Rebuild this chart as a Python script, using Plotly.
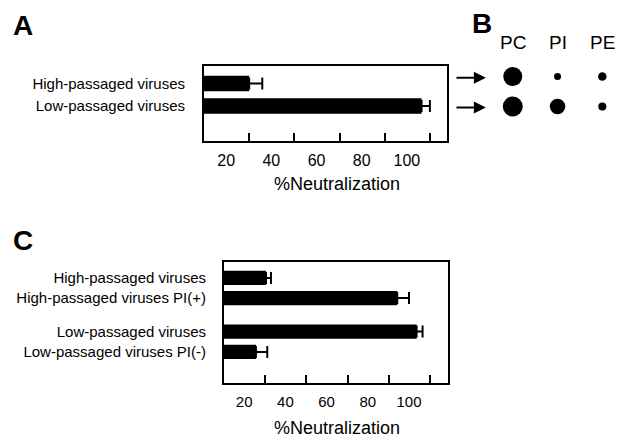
import plotly.graph_objects as go

FONT = "Liberation Sans, Arial, Helvetica, sans-serif"
W, H = 620, 439

# ---------------- data ----------------
a_labels = ["High-passaged viruses", "Low-passaged viruses"]
a_pos = [1, 0]
a_values = [20.0, 96.3]
a_errors = [5.8, 3.7]

c_labels = ["High-passaged viruses", "High-passaged viruses PI(+)",
            "Low-passaged viruses", "Low-passaged viruses PI(-)"]
c_pos = [3.64, 2.65, 1.0, 0.0]
c_values = [20.4, 84.1, 93.5, 15.5]
c_errors = [2.4, 5.7, 2.9, 5.5]

b_columns = ["PC", "PI", "PE"]
b_rows = [1, 0]              # 1 = high-passaged row, 0 = low-passaged row
b_sizes_high = [19, 7, 8.5]
b_sizes_low = [20, 15.5, 8]

x_ticks = [20, 40, 60, 80, 100]


def px_x(p):
    return p / W


def px_y(p):
    return 1 - p / H


fig = go.Figure()

# Panel A bars
fig.add_trace(go.Bar(
    x=a_values, y=a_pos, orientation="h", width=0.69,
    marker=dict(color="black", line=dict(width=0)),
    error_x=dict(type="data", symmetric=False, array=a_errors,
                 arrayminus=[0] * len(a_errors), color="black",
                 thickness=2, width=6),
    xaxis="x", yaxis="y", showlegend=False,
))

# Panel C bars
fig.add_trace(go.Bar(
    x=c_values, y=c_pos, orientation="h", width=0.7,
    marker=dict(color="black", line=dict(width=0)),
    error_x=dict(type="data", symmetric=False, array=c_errors,
                 arrayminus=[0] * len(c_errors), color="black",
                 thickness=2, width=6),
    xaxis="x2", yaxis="y2", showlegend=False,
))

# Panel B dots
bx = list(range(len(b_columns)))
fig.add_trace(go.Scatter(
    x=bx + bx, y=[b_rows[0]] * 3 + [b_rows[1]] * 3, mode="markers",
    marker=dict(color="#000000", opacity=1, size=b_sizes_high + b_sizes_low,
                line=dict(width=0)),
    xaxis="x3", yaxis="y3", showlegend=False, hoverinfo="skip",
))

xcommon = dict(
    showline=True, linecolor="black", linewidth=2, mirror=True,
    showgrid=False, zeroline=False, ticks="inside", ticklen=8,
    tickwidth=2, tickcolor="black", tickvals=x_ticks,
    tickfont=dict(family=FONT, size=16, color="black"),
)
ycommon = dict(
    showline=True, linecolor="black", linewidth=2, mirror=True,
    showgrid=False, zeroline=False, ticks="",
    tickfont=dict(family=FONT, size=15, color="black"),
)

fig.update_layout(
    width=W, height=H,
    margin=dict(l=0, r=0, t=0, b=0),
    paper_bgcolor="white", plot_bgcolor="white",
    font=dict(family=FONT, color="black"),
    xaxis=dict(xcommon, domain=[px_x(204), px_x(447.3)], range=[0, 107.7],
               anchor="y", ticklabelshift=-23, ticklabelstandoff=4),
    yaxis=dict(ycommon, domain=[px_y(141), px_y(66)], range=[-1.56, 1.78],
               anchor="x", tickvals=a_pos, ticktext=a_labels,
               ticklabelstandoff=14),
    xaxis2=dict(xcommon, domain=[px_x(224), px_x(447.5)], range=[0, 108.5],
                anchor="y2", ticklabelshift=-21, ticklabelstandoff=4,
                tickfont=dict(family=FONT, size=15, color="black")),
    yaxis2=dict(ycommon, domain=[px_y(383), px_y(261.7)], range=[-1.53, 4.44],
                anchor="x2", tickvals=c_pos, ticktext=c_labels,
                ticklabelstandoff=13),
    xaxis3=dict(domain=[px_x(455), 1], range=[-1.29, 2.395], visible=False,
                anchor="y3"),
    yaxis3=dict(domain=[px_y(130), px_y(30)], range=[-0.783, 2.55],
                visible=False, anchor="x3"),
)

ann = []
# Panel letters
for letter, x, y in [("A", 22.5, 25), ("B", 482, 23), ("C", 23.3, 240)]:
    ann.append(dict(text="<b>%s</b>" % letter, x=px_x(x), y=px_y(y),
                    xref="paper", yref="paper", showarrow=False,
                    xanchor="center", yanchor="middle",
                    font=dict(family=FONT, size=28, color="black")))
# Axis titles
for x, y in [(337, 184), (336.7, 428.3)]:
    ann.append(dict(text="%Neutralization", x=px_x(x), y=px_y(y),
                    xref="paper", yref="paper", showarrow=False,
                    xanchor="center", yanchor="middle",
                    font=dict(family=FONT, size=18, color="black")))
# Panel B column labels
for i, name in enumerate(b_columns):
    ann.append(dict(text=name, x=i, y=2.117, xref="x3", yref="y3",
                    showarrow=False, xanchor="center", yanchor="middle",
                    font=dict(family=FONT, size=19, color="black")))
# Arrows
for r in b_rows:
    yy = r - 0.04 if r == 1 else r - 0.03
    ann.append(dict(text="", x=-0.6, y=yy, ax=-1.29, ay=yy,
                    xref="x3", yref="y3", axref="x3", ayref="y3",
                    showarrow=True, arrowhead=2, arrowsize=1.2,
                    arrowwidth=2, arrowcolor="black"))
fig.update_layout(annotations=ann)

fig.write_html(
    "out.html",
    config={"displayModeBar": False, "staticPlot": True},
    post_script="document.body.style.margin='0';document.body.style.padding='0';",
)
